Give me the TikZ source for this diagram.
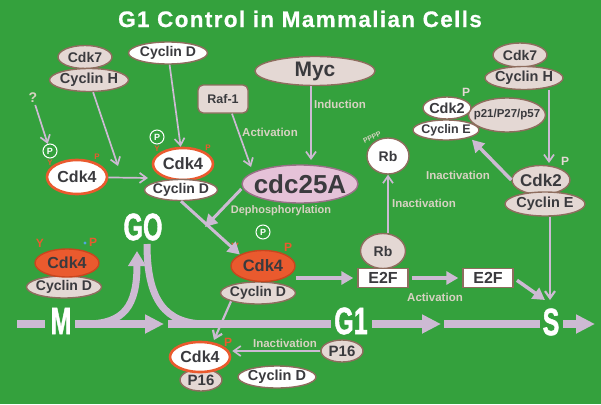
\documentclass[tikz,border=0pt]{standalone}
\usepackage{fontspec}
\setmainfont{Liberation Sans}
\usepackage{graphicx}
\usetikzlibrary{shapes.geometric,arrows.meta}
\definecolor{bg}{HTML}{34A13D}
\definecolor{beige}{HTML}{E4D8D4}
\definecolor{brd}{HTML}{8E6D5E}
\definecolor{txt}{HTML}{3A3A3E}
\definecolor{orn}{HTML}{EA5A2E}
\definecolor{ornd}{HTML}{C8461E}
\definecolor{pink}{HTML}{E5C2D8}
\definecolor{pinkb}{HTML}{9A7088}
\definecolor{arr}{HTML}{CDBAD3}
\definecolor{lab}{HTML}{D7D2C2}
\definecolor{bdot}{HTML}{4FA8E0}
\newcommand\myfs[1]{\fontsize{#1}{#1}\selectfont}
\begin{document}
\begin{tikzpicture}[x=1pt,y=-1pt,
  base/.style={ellipse, inner sep=-8pt, line width=1.4pt, text=txt, font=\bfseries\myfs{14}},
  bei/.style={base, draw=brd, fill=beige},
  wht/.style={base, draw=brd, fill=white},
  wor/.style={base, draw=orn, fill=white, line width=2.6pt},
  orf/.style={base, draw=ornd, fill=orn},
  boxw/.style={rectangle, inner sep=0pt, draw=brd, fill=white, line width=1.4pt, text=txt, font=\bfseries\myfs{16}},
  lbl/.style={text=lab, font=\bfseries\myfs{11.5}, inner sep=0pt},
  thinarr/.style={draw=arr, line width=1.7pt, -{Straight Barb[length=7pt,width=10pt]}},
  medarr/.style={draw=arr, line width=3pt, -{Triangle[length=12pt,width=13pt]}},
  bar/.style={draw=arr, line width=8pt},
  bararr/.style={bar, -{Triangle[length=19pt,width=18pt]}},
  phase/.style={text=white, font=\bfseries\myfs{38}\addfontfeature{FakeBold=1.6}, inner sep=0pt},
  pcirc/.style={circle, draw=white, line width=1pt, inner sep=0pt, minimum size=14pt, text=white, font=\bfseries\myfs{9}},
  pflag/.style={text=orn, font=\bfseries\myfs{12}, inner sep=0pt},
  plab/.style={text=beige, font=\bfseries\myfs{12}, inner sep=0pt}]
\fill[bg] (0,0) rectangle (601,404);
\useasboundingbox (0,0) rectangle (601,404);

% title
\node[text=white, font=\bfseries\myfs{22.5}\addfontfeature{LetterSpace=6,FakeBold=0.6}] (title) at (300,19) {G1 Control in Mammalian Cells};

% phase letters
\node[phase] (GO) at (143,227) {\scalebox{0.66}[1]{GO}};
\node[phase] (M) at (61,321) {\scalebox{0.66}[1]{M}};
\node[phase] (G1) at (351,321) {\scalebox{0.66}[1]{G1}};
\node[phase] (S) at (551,322) {\scalebox{0.66}[1]{S}};

% main cycle bars
\coordinate (b1s) at (17,324); \coordinate (b1e) at (45,324);
\coordinate (b2s) at (75,324); \coordinate (b2e) at (164,324);
\coordinate (b3s) at (168,324); \coordinate (b3e) at (331,324);
\coordinate (b4s) at (372,324); \coordinate (b4e) at (441,324);
\coordinate (b5s) at (444,324); \coordinate (b5e) at (540,324);
\coordinate (b6s) at (563,324); \coordinate (b6e) at (595,324);
\draw[bar] (b1s) -- (b1e);
\draw[bararr] (b2s) -- (b2e);
\draw[bar] (b3s) -- (b3e);
\draw[bararr] (b4s) -- (b4e);
\draw[bar] (b5s) -- (b5e);
\draw[bararr] (b6s) -- (b6e);
\coordinate (c1s) at (86,324); \coordinate (c1e) at (137,251);
\draw[draw=arr, line width=7pt, -{Triangle[length=15pt,width=17pt]}] (c1s) .. controls (124,324) and (137,306) .. (c1e);
\coordinate (c2s) at (147,244); \coordinate (c2e) at (206,324);
\draw[draw=arr, line width=7pt] (c2s) .. controls (147,300) and (165,324) .. (c2e);

% top-left complex
\node[bei, minimum width=54pt, minimum height=23pt] (cdk7L) at (85,57) {Cdk7};
\node[bei, minimum width=79pt, minimum height=23pt, font=\bfseries\myfs{14.5}] (cycHL) at (89,80) {Cyclin H};
\node[wht, minimum width=79pt, minimum height=22pt] (cycDT) at (168,53) {Cyclin D};
\node[bei, minimum width=120pt, minimum height=29pt, font=\bfseries\myfs{21}] (myc) at (315,71) {Myc};
\node[rectangle, rounded corners=5pt, inner sep=0pt, draw=brd, fill=beige, line width=1.4pt, text=txt, font=\bfseries\myfs{12.5}, minimum width=50pt, minimum height=28pt] (raf) at (223,99) {Raf-1};

% top-right complex
\node[bei, minimum width=54pt, minimum height=24pt] (cdk7R) at (520,55) {Cdk7};
\node[bei, minimum width=78pt, minimum height=23pt, font=\bfseries\myfs{14.5}] (cycHR) at (524,78) {Cyclin H};
\node[bei, minimum width=77pt, minimum height=34pt, font=\bfseries\myfs{11.5}] (p21) at (507,115) {p21/P27/p57};
\node[wht, minimum width=48pt, minimum height=22pt, font=\bfseries\myfs{14.5}] (cdk2T) at (447,108) {Cdk2};
\node[wht, minimum width=66pt, minimum height=20pt, font=\bfseries\myfs{12.5}] (cycET) at (446,130) {Cyclin E};
\node[plab] (pT) at (466,92) {P};
\node[wht, minimum width=42pt, minimum height=36pt] (rbT) at (388,156) {Rb};
\node[text=lab, font=\bfseries\myfs{7}, rotate=25, inner sep=0pt] (pppp) at (372,137) {PPPP};
\node[bei, minimum width=58pt, minimum height=29pt, font=\bfseries\myfs{17}] (cdk2R) at (541,180) {Cdk2};
\node[bei, minimum width=80pt, minimum height=24pt, font=\bfseries\myfs{14.5}] (cycER) at (545,204) {Cyclin E};
\node[plab] (pR) at (565,161) {P};

% Cdk4 left and center
\node[text=lab, font=\bfseries\myfs{14}, inner sep=0pt] (q) at (33,98) {?};
\node[pcirc] (pcL) at (50,151) {P};
\node[pflag, font=\bfseries\myfs{8}] (yL) at (50,163) {Y};
\node[wor, minimum width=60pt, minimum height=34pt, font=\bfseries\myfs{16}] (cdk4L) at (77,177) {Cdk4};
\node[pflag, font=\bfseries\myfs{8}] (fL) at (97,157) {P};
\node[pcirc] (pcC) at (157,137) {P};
\node[pflag, font=\bfseries\myfs{8}] (yC) at (157,149) {Y};
\node[wor, minimum width=60pt, minimum height=32pt, font=\bfseries\myfs{16.5}] (cdk4C) at (183,164) {Cdk4};
\node[pflag, font=\bfseries\myfs{8}] (fC) at (208,148) {P};
\node[wht, minimum width=73pt, minimum height=21pt] (cycDC) at (181,190) {Cyclin D};

% cdc25A
\node[base, draw=pinkb, fill=pink, minimum width=116pt, minimum height=38pt, font=\bfseries\myfs{26}] (cdc25) at (300,184) {cdc25A};

% orange Cdk4 centre
\node[pcirc] (pcO) at (263,232) {P};
\node[bei, minimum width=75pt, minimum height=22pt] (cycDO) at (258,293) {Cyclin D};
\node[orf, minimum width=64pt, minimum height=31pt, font=\bfseries\myfs{16.5}] (cdk4O) at (263,266) {Cdk4};
\node[pflag] (yO) at (235,247) {Y};
\node[pflag] (fO) at (288,247) {P};

% orange Cdk4 left
\node[bei, minimum width=75pt, minimum height=22pt] (cycDLO) at (64,287) {Cyclin D};
\node[orf, minimum width=64pt, minimum height=28pt, font=\bfseries\myfs{16}] (cdk4LO) at (67,263) {Cdk4};
\node[pflag] (yLO) at (40,243) {Y};
\node[pflag] (fLO) at (93,242) {P};
\fill[bdot] (85,243) circle (1.6pt);

% Rb / E2F
\node[bei, minimum width=45pt, minimum height=35pt] (rbL) at (383,251) {Rb};
\node[boxw, minimum width=50pt, minimum height=19pt] (e2f1) at (383,278) {E2F};
\node[boxw, minimum width=50pt, minimum height=19pt] (e2f2) at (488,278) {E2F};

% bottom
\node[bei, minimum width=42pt, minimum height=22pt, font=\bfseries\myfs{15}] (p16B) at (201,380) {P16};
\node[wor, minimum width=60pt, minimum height=30pt, font=\bfseries\myfs{16}] (cdk4B) at (200,357) {Cdk4};
\node[pflag] (fB) at (228,342) {P};
\node[bei, minimum width=42pt, minimum height=22pt, font=\bfseries\myfs{15}] (p16R) at (342,351) {P16};
\node[wht, minimum width=78pt, minimum height=22pt, font=\bfseries\myfs{14.5}] (cycDB) at (277,377) {Cyclin D};

% labels
\node[lbl] (lInd) at (340,104) {Induction};
\node[lbl] (lAct1) at (270,132) {Activation};
\node[lbl] (lInact1) at (458,175) {Inactivation};
\node[lbl] (lInact2) at (424,203) {Inactivation};
\node[lbl, font=\bfseries\myfs{11}] (lDeph) at (281,211) {Dephosphorylation};
\node[lbl] (lAct2) at (435,297) {Activation};
\node[lbl] (lInact3) at (285,343) {Inactivation};

% connectors
\coordinate (tH) at (118,166);
\draw[thinarr] (cycHL) -- (tH);
\draw[thinarr, shorten <=2pt] (q) -- (pcL);
\coordinate (tK) at (148,178);
\draw[thinarr] (cdk4L) -- (tK);
\draw[thinarr] (cycDT) -- (cdk4C);
\coordinate (tRaf) at (251,167);
\draw[thinarr] ([xshift=9pt]raf.south) -- (tRaf);
\coordinate (tMyc) at (311,160);
\draw[thinarr] (myc.south -| tMyc) -- (tMyc);
\coordinate (tDeph) at (205,227);
\draw[medarr] ([yshift=-5pt]cdc25.west) -- (tDeph);
\draw[medarr] (cycDC.south) -- (cdk4O.north west);
\draw[medarr, line width=3.5pt, shorten >=4pt] (e2f1.west -| cdk4O.east) -- (e2f1.west);
\draw[thinarr] (rbL.north -| rbT) -- (rbT.south);
\draw[medarr, line width=3.5pt, shorten >=4pt, shorten <=3pt] (e2f1) -- (e2f2);
\coordinate (tS) at (545,300);
\draw[medarr, line width=3.5pt, shorten <=4pt] (e2f2.east) -- (tS);
\coordinate (tS2) at (550,300);
\draw[thinarr, line width=2.2pt] (cycER.south -| tS2) -- (tS2);
\coordinate (tC) at (549,163);
\draw[thinarr] (cycHR.south -| tC) -- (tC);
\draw[medarr, line width=3.5pt, shorten >=3pt] (cdk2R.west) -- (cycET.south east);
\coordinate (tB) at (214,340);
\draw[thinarr, line width=2.2pt] (cycDO.south west) -- (tB);
\draw[thinarr, shorten >=1pt] (p16R.west) -- (p16R.west -| cdk4B.east);
\end{tikzpicture}
\end{document}
